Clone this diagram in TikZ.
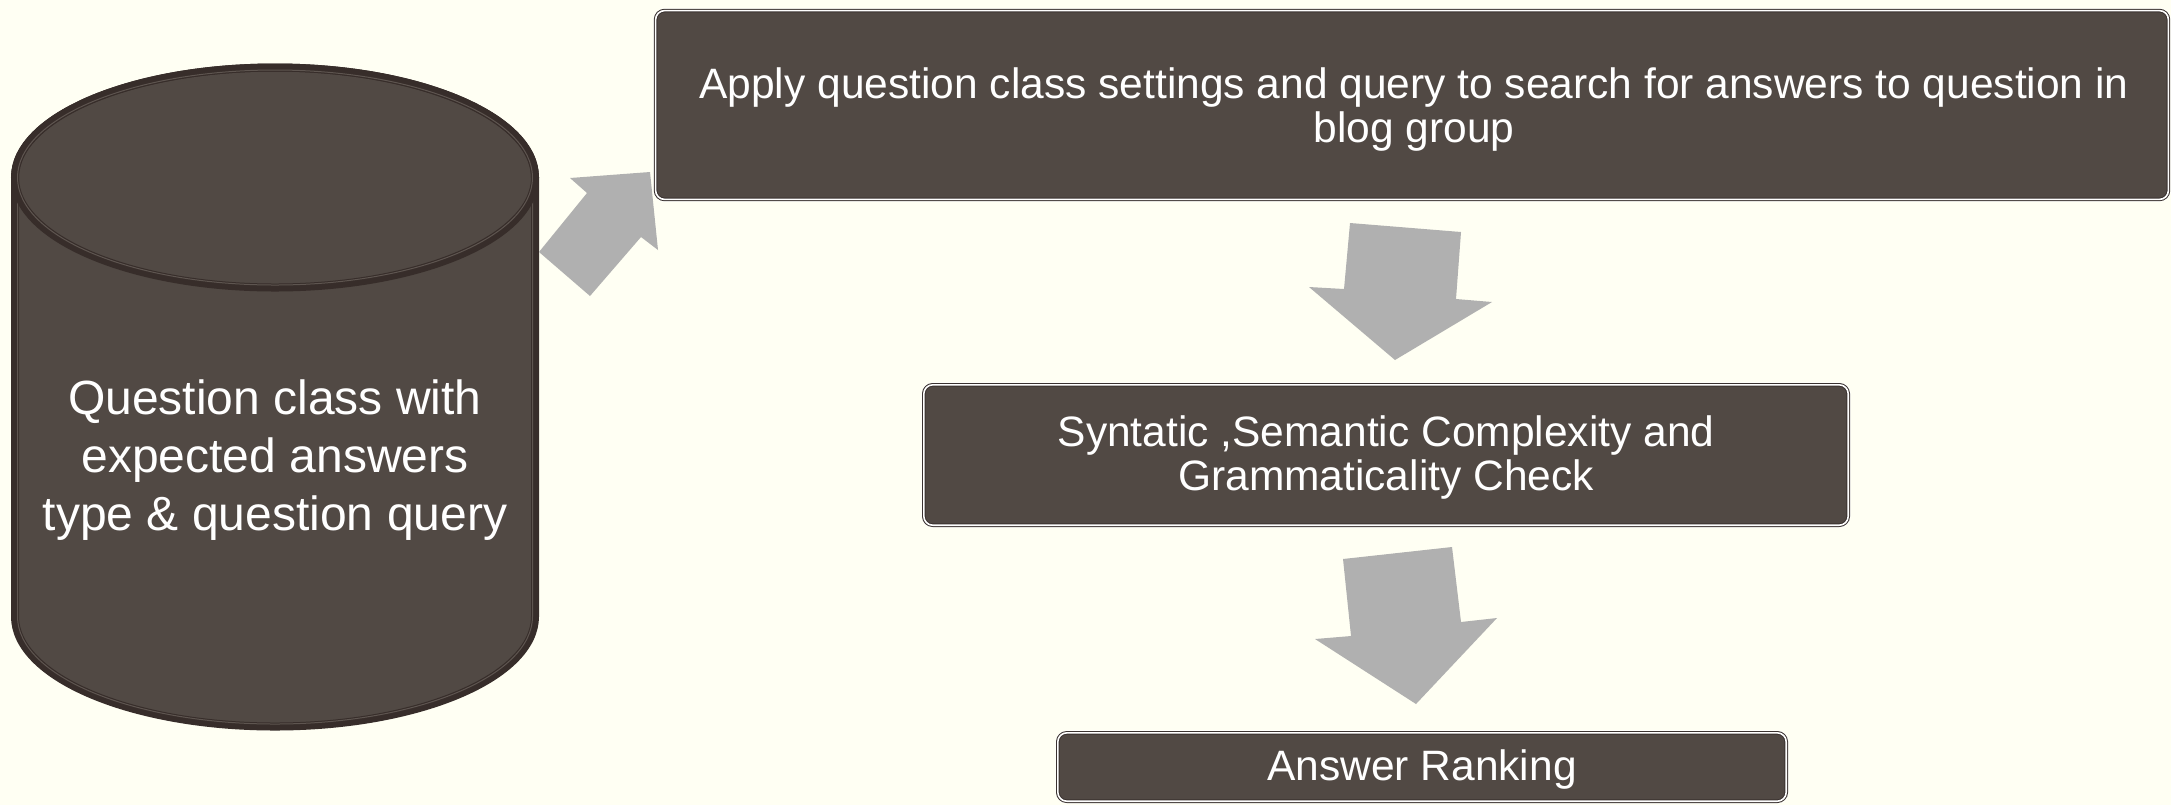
\documentclass[tikz,border=0pt]{standalone}
\usepackage{fontspec}
\setmainfont{Liberation Sans}
\definecolor{bg}{HTML}{FFFFF3}
\definecolor{boxfill}{HTML}{514944}
\definecolor{boxline}{HTML}{3A3230}
\definecolor{arrowgrey}{HTML}{B0B0B0}
\definecolor{cylline}{HTML}{372D2A}
\definecolor{cylinner}{HTML}{5E5550}
\begin{document}
\begin{tikzpicture}[x=0.5pt,y=-0.5pt,
  procbox/.style={rectangle, rounded corners=4.5pt, fill=boxfill, draw=boxline,
    double=white, double distance=0.8pt, line width=0.5pt, inner sep=0pt,
    preaction={draw=white, line width=2.6pt, draw opacity=0.6}},
  boxtext/.style={text=white, align=center, inner sep=0pt, font=\fontsize{21.25}{22}\selectfont},
  blockarrow/.style={fill=arrowgrey, draw=none},
  cylout/.style={draw=cylline, line width=4pt},
  cylin/.style={draw=cylinner, line width=0.5pt}]
\fill[bg] (0,0) rectangle (2171,805);
\useasboundingbox (0,0) rectangle (2171,805);

% cylinder
\path[fill=boxfill] (15,177.5) -- (15,616.5)
  arc[start angle=180,end angle=360,x radius=130pt,y radius=55pt]
  -- (535,177.5)
  arc[start angle=0,end angle=180,x radius=130pt,y radius=55pt] -- cycle;
\draw[cylout] (15,177.5) -- (15,616.5)
  arc[start angle=180,end angle=360,x radius=130pt,y radius=55pt]
  -- (535,177.5)
  arc[start angle=0,end angle=180,x radius=130pt,y radius=55pt] -- cycle;
\draw[cylin] (17.5,177.5) -- (17.5,616.5)
  arc[start angle=180,end angle=360,x radius=128.75pt,y radius=53.75pt]
  -- (532.5,177.5);
\draw[cylout] (275,177.5) ellipse[x radius=130pt,y radius=55pt];
\draw[cylin] (275,177.5) ellipse[x radius=128.75pt,y radius=53.75pt];
\node[text=white, align=center, inner sep=0pt, font=\fontsize{24}{29}\selectfont]
  (qclass) at (275,460) {Question class with\\expected answers\\type \& question query};

% boxes
\node[procbox, minimum width=756.4pt, minimum height=94.4pt] (apply) at (1412,105) {};
\node[boxtext] (applytext) at (1414,110)
  {Apply question class settings and query to search for answers to question in\\blog group};
\node[procbox, minimum width=462.2pt, minimum height=70.2pt] (check) at (1386,455) {};
\node[boxtext] (checktext) at (1386,457)
  {Syntatic ,Semantic Complexity and\\Grammaticality Check};
\node[procbox, minimum width=364.2pt, minimum height=34.2pt] (rank) at (1422,767) {};
\node[boxtext] (ranktext) at (1422,769) {Answer Ranking};

% block arrows
\fill[blockarrow] (539,252) -- (590,296) -- (641,237) -- (658,250) -- (650,172) -- (570,178) -- (587,193) -- cycle;
\fill[blockarrow] (1350,223) -- (1461,232) -- (1456,299) -- (1492,302) -- (1395,360) -- (1309,287) -- (1344,289) -- cycle;
\fill[blockarrow] (1343,559) -- (1452,547) -- (1461,622) -- (1497,618) -- (1416,704) -- (1315,639) -- (1351,636) -- cycle;
\end{tikzpicture}
\end{document}
